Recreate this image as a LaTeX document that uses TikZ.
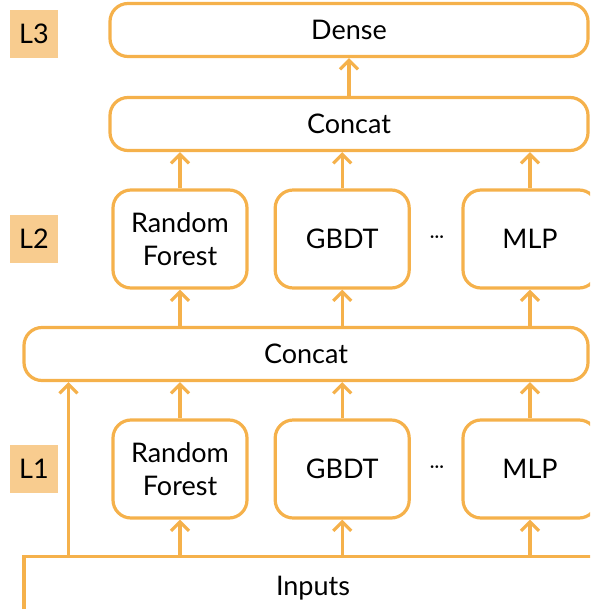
\documentclass[tikz,border=0pt]{standalone}
\usepackage{fontspec}
\setmainfont{Lato}
\usetikzlibrary{positioning,arrows.meta}
\definecolor{ora}{HTML}{F5B14B}
\definecolor{lvlfill}{HTML}{F8CC8F}

\begin{document}
\begin{tikzpicture}[
  x=1pt, y=-1pt,
  font=\fontsize{27}{33}\selectfont,
  bar/.style={draw=ora, line width=3.2pt, rounded corners=18pt,
              minimum height=53pt, inner sep=0pt},
  model/.style={draw=ora, line width=3.2pt, rounded corners=18pt, align=center,
                minimum width=134pt, minimum height=98pt, inner sep=0pt},
  lvl/.style={fill=lvlfill, minimum width=48pt, minimum height=48pt, inner sep=0pt},
  flow/.style={-{Straight Barb[length=9pt, width=18pt]}, draw=ora, line width=3.2pt},
  node distance=25pt and 25pt,
]
  \useasboundingbox (0,0) rectangle (590,609);
  \clip (0,0) rectangle (590,609);

  % level tags
  \node[lvl] (l3) at (34,34) {L3};
  \node[lvl] (l2) at (34,239) {L2};
  \node[lvl] (l1) at (34,469) {L1};

  % inputs
  \node[draw=ora, line width=3.2pt, minimum width=578pt, minimum height=63pt]
    (inputs) at (313,588) {Inputs};

  % first level models
  \node[model] (rf1) at (180,469) {Random\\Forest};
  \node[model, right=of rf1] (gbdt1) {GBDT};
  \node[model] (mlp1) at (530,469) {MLP};
  \node (dots1) at (437,469) {\fontsize{18}{18}\selectfont ···};

  \node[bar, minimum width=564pt] (cat1) at (306,354) {Concat};

  % second level models
  \node[model] (rf2) at (180,239) {Random\\Forest};
  \node[model, right=of rf2] (gbdt2) {GBDT};
  \node[model] (mlp2) at (530,239) {MLP};
  \node (dots2) at (437,239) {\fontsize{18}{18}\selectfont ···};

  \node[bar, minimum width=478pt] (cat2) at (349,124) {Concat};
  \node[bar, minimum width=478pt] (dense) at (349,30) {Dense};

  % arrows
  \coordinate (tap) at ([xshift=46pt]inputs.north west);
  \draw[flow] (tap) -- (tap |- cat1.south);
  \foreach \m in {rf,gbdt,mlp} {
    \draw[flow] (inputs.north -| \m1.south) -- (\m1.south);
    \draw[flow] (\m1.north) -- (\m1.north |- cat1.south);
    \draw[flow] (cat1.north -| \m2.south) -- (\m2.south);
    \draw[flow] (\m2.north) -- (\m2.north |- cat2.south);
  }
  \draw[flow] (cat2.north) -- (dense.south);
\end{tikzpicture}
\end{document}
